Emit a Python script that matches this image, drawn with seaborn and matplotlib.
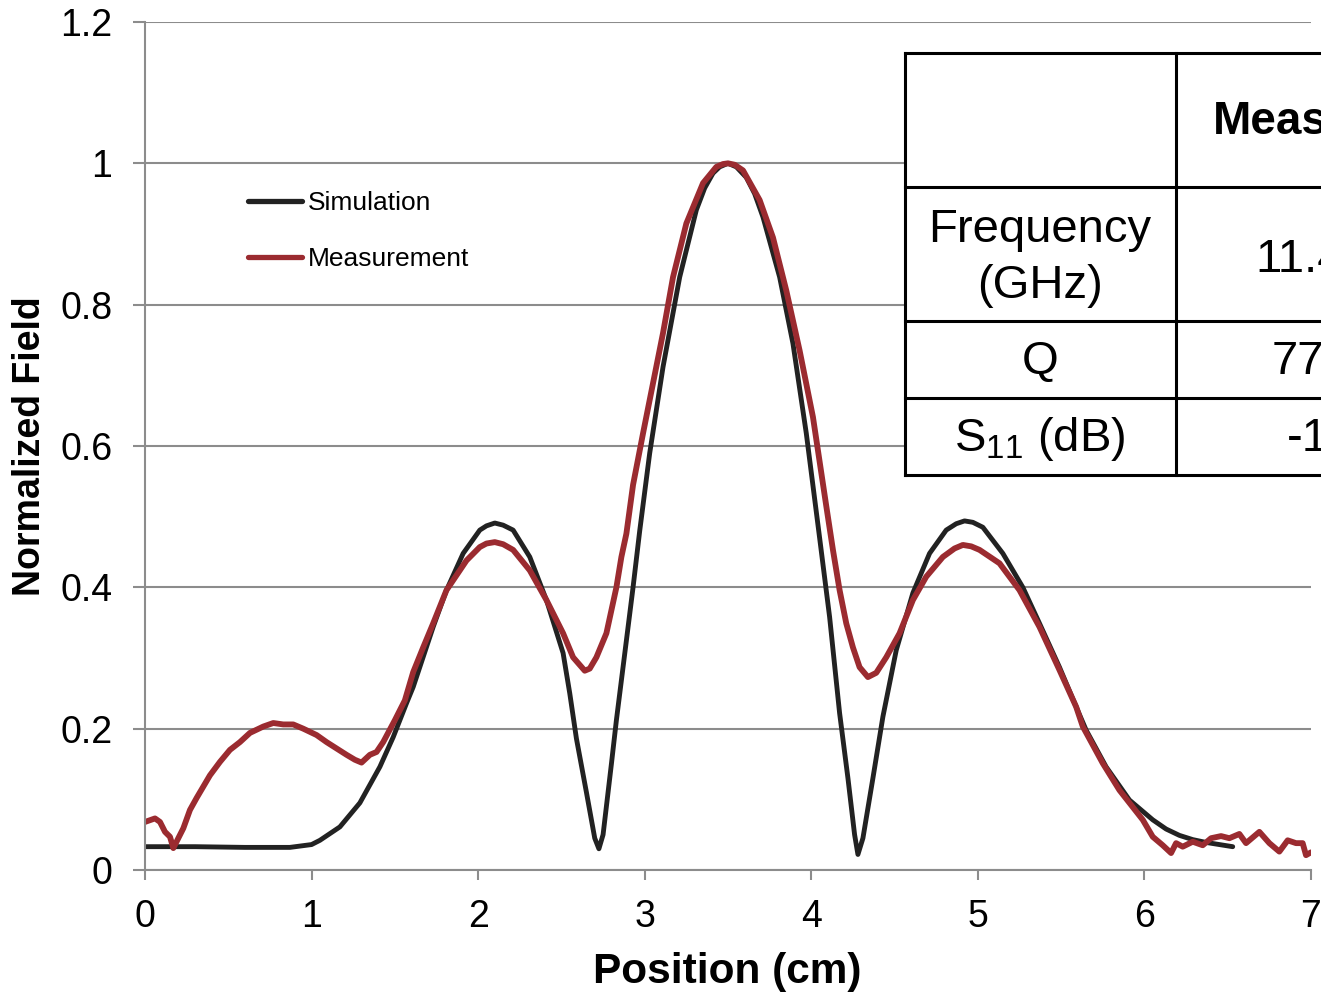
import numpy as np
import pandas as pd
import matplotlib
matplotlib.use("Agg")
import matplotlib.pyplot as plt
import seaborn as sns
from matplotlib.lines import Line2D
from matplotlib.patches import Rectangle

# Simulation curve (black)
sim_x = [0.0, 0.3, 0.6, 0.87, 1.0, 1.05, 1.17, 1.29, 1.41, 1.49, 1.57, 1.61, 1.73, 1.81,
         1.91, 2.01, 2.05, 2.10, 2.15, 2.21, 2.31, 2.41, 2.51, 2.55, 2.59, 2.65, 2.70,
         2.725, 2.75, 2.80, 2.83, 2.93, 2.97, 3.03, 3.11, 3.21, 3.31, 3.36, 3.41, 3.45,
         3.50, 3.55, 3.61, 3.66, 3.71, 3.81, 3.89, 3.97, 4.05, 4.11, 4.17, 4.22, 4.26,
         4.28, 4.31, 4.37, 4.43, 4.51, 4.61, 4.71, 4.81, 4.87, 4.92, 4.97, 5.03, 5.15,
         5.27, 5.37, 5.49, 5.59, 5.65, 5.77, 5.91, 6.05, 6.13, 6.21, 6.29, 6.37, 6.53]
sim_y = [0.033, 0.033, 0.032, 0.032, 0.036, 0.042, 0.061, 0.095, 0.146, 0.188, 0.236, 0.259,
         0.344, 0.396, 0.448, 0.481, 0.487, 0.491, 0.488, 0.481, 0.443, 0.382, 0.307, 0.25,
         0.186, 0.11, 0.045, 0.03, 0.05, 0.15, 0.212, 0.40, 0.48, 0.59, 0.712, 0.839,
         0.934, 0.965, 0.986, 0.995, 1.0, 0.995, 0.98, 0.957, 0.924, 0.839, 0.745, 0.618,
         0.47, 0.358, 0.222, 0.13, 0.05, 0.022, 0.045, 0.13, 0.217, 0.311, 0.392, 0.448,
         0.481, 0.49, 0.494, 0.492, 0.485, 0.448, 0.40, 0.349, 0.287, 0.231, 0.198, 0.146,
         0.099, 0.071, 0.058, 0.049, 0.043, 0.039, 0.033]

# Measurement curve (red)
meas_x = [0.00, 0.06, 0.09, 0.12, 0.15, 0.17, 0.20, 0.23, 0.27, 0.31, 0.35, 0.39, 0.45,
          0.51, 0.57, 0.63, 0.71, 0.77, 0.83, 0.89, 0.95, 1.03, 1.09, 1.15, 1.21, 1.26,
          1.30, 1.35, 1.39, 1.43, 1.50, 1.56, 1.61, 1.67, 1.73, 1.81, 1.93, 2.01, 2.05,
          2.10, 2.15, 2.21, 2.31, 2.41, 2.51, 2.57, 2.64, 2.67, 2.71, 2.77, 2.83, 2.86,
          2.89, 2.93, 2.99, 3.05, 3.11, 3.17, 3.25, 3.35, 3.43, 3.47, 3.50, 3.54, 3.59,
          3.69, 3.77, 3.85, 3.93, 4.01, 4.09, 4.13, 4.17, 4.21, 4.25, 4.29, 4.34, 4.39,
          4.45, 4.53, 4.61, 4.69, 4.79, 4.86, 4.91, 4.96, 5.01, 5.13, 5.25, 5.37, 5.49,
          5.59, 5.63, 5.75, 5.85, 5.93, 5.99, 6.05, 6.11, 6.16, 6.19, 6.23, 6.29, 6.35,
          6.40, 6.46, 6.51, 6.57, 6.61, 6.69, 6.75, 6.81, 6.86, 6.91, 6.95, 6.97, 7.00]
meas_y = [0.068, 0.073, 0.068, 0.054, 0.047, 0.031, 0.045, 0.059, 0.085, 0.102, 0.118, 0.134,
          0.153, 0.170, 0.181, 0.194, 0.203, 0.208, 0.206, 0.206, 0.200, 0.191, 0.181, 0.172,
          0.163, 0.156, 0.152, 0.163, 0.167, 0.181, 0.212, 0.240, 0.280, 0.315, 0.349, 0.396,
          0.438, 0.457, 0.462, 0.464, 0.461, 0.453, 0.424, 0.382, 0.335, 0.301, 0.282, 0.285,
          0.301, 0.335, 0.400, 0.443, 0.476, 0.545, 0.618, 0.689, 0.760, 0.839, 0.915, 0.972,
          0.995, 0.999, 1.0, 0.998, 0.990, 0.948, 0.895, 0.820, 0.735, 0.641, 0.515, 0.453,
          0.396, 0.349, 0.315, 0.287, 0.273, 0.279, 0.301, 0.335, 0.382, 0.415, 0.443, 0.455,
          0.460, 0.458, 0.453, 0.434, 0.396, 0.344, 0.283, 0.231, 0.203, 0.151, 0.113, 0.089,
          0.071, 0.047, 0.035, 0.024, 0.038, 0.033, 0.040, 0.035, 0.045, 0.048, 0.045, 0.051,
          0.038, 0.054, 0.038, 0.026, 0.042, 0.038, 0.038, 0.021, 0.025]

x_ticks = [0, 1, 2, 3, 4, 5, 6, 7]
y_ticks = [0, 0.2, 0.4, 0.6, 0.8, 1.0, 1.2]
y_tick_labels = ["0", "0.2", "0.4", "0.6", "0.8", "1", "1.2"]

# table contents (right part is cut off in the original figure)
table_rows = ["Frequency\n(GHz)", "Q", "$\\mathrm{S}_{11}$ (dB)"]
table_header = "Measured"
table_values = ["11.4", "77", "-1"]

sns.set_theme(style="white")
plt.rcParams["font.family"] = ["Liberation Sans", "DejaVu Sans"]
plt.rcParams["mathtext.fontset"] = "custom"
plt.rcParams["mathtext.rm"] = "Liberation Sans"
plt.rcParams["mathtext.it"] = "Liberation Sans"
plt.rcParams["text.color"] = "black"
plt.rcParams["axes.labelcolor"] = "black"

W, H = 1321, 992
fig = plt.figure(figsize=(W / 100, H / 100), dpi=100)
ax = fig.add_axes([145 / W, 1 - 870 / H, (1311 - 145) / W, (870 - 22) / H])

df_sim = pd.DataFrame({"x": sim_x, "y": sim_y})
df_meas = pd.DataFrame({"x": meas_x, "y": meas_y})

grey = "#8c8c8c"
sns.lineplot(data=df_sim, x="x", y="y", ax=ax, color="#222222", lw=3.5,
             estimator=None, label="Simulation")
sns.lineplot(data=df_meas, x="x", y="y", ax=ax, color="#9B2B30", lw=4.2,
             estimator=None, label="Measurement")

ax.set_xlim(0, 7)
ax.set_ylim(0, 1.2)
ax.set_xticks(x_ticks)
ax.set_yticks(y_ticks)
ax.set_yticklabels(y_tick_labels)
ax.yaxis.grid(True, color=grey, lw=1.5)
ax.set_axisbelow(True)
for s in ["top", "right"]:
    ax.spines[s].set_visible(False)
for s in ["left", "bottom"]:
    ax.spines[s].set_color(grey)
    ax.spines[s].set_linewidth(1.5)
ax.tick_params(axis="y", left=True, length=8.5, width=1.5, color=grey,
               labelsize=27, pad=15, labelcolor="black")
ax.tick_params(axis="x", bottom=True, length=7, width=1.5, color=grey,
               labelsize=27, pad=14, labelcolor="black")

ax.set_xlabel("Position (cm)", fontsize=30.5, fontweight="bold", color="black")
ax.set_ylabel("Normalized Field", fontsize=27, fontweight="bold", color="black")
ax.xaxis.set_label_coords(0.499, -0.097)
ax.yaxis.set_label_coords(-0.083, 0.5)

leg = ax.legend(loc="center left", bbox_to_anchor=((248 - 145) / 1166, (870 - 231) / 848),
                frameon=False, fontsize=19, handlelength=2.05, handletextpad=0.2,
                labelspacing=1.2, borderpad=0, borderaxespad=0)
for line in leg.get_lines():
    line.set_linewidth(3.8)
for t in leg.get_texts():
    t.set_color("black")


def fx(px):
    return px / W


def fy(py):
    return 1 - py / H


# table box with white fill
fig.patches.append(Rectangle((fx(905), fy(475)), fx(1400) - fx(905), fy(53) - fy(475),
                             transform=fig.transFigure, facecolor="white",
                             edgecolor="none", zorder=2))
tlw = 2.2
for py in [53, 187, 321, 398, 475]:
    fig.add_artist(Line2D([fx(905), fx(1400)], [fy(py), fy(py)], color="black",
                          lw=tlw, zorder=3, solid_capstyle="projecting"))
for px in [905, 1176]:
    fig.add_artist(Line2D([fx(px), fx(px)], [fy(53), fy(475)], color="black",
                          lw=tlw, zorder=3, solid_capstyle="projecting"))

row_y = [258, 362, 439]
for label, py in zip(table_rows, row_y):
    fig.text(fx(1040), fy(py), label, ha="center", va="center", fontsize=34,
             linespacing=1.38, zorder=4)
fig.text(fx(1213), fy(122), table_header, ha="left", va="center", fontsize=33,
         fontweight="bold", zorder=4)
for val, px, py in zip(table_values, [1255, 1272, 1287], [260, 362, 439]):
    fig.text(fx(px), fy(py), val, ha="left", va="center", fontsize=34, zorder=4)

fig.savefig("out.png", dpi=100)
